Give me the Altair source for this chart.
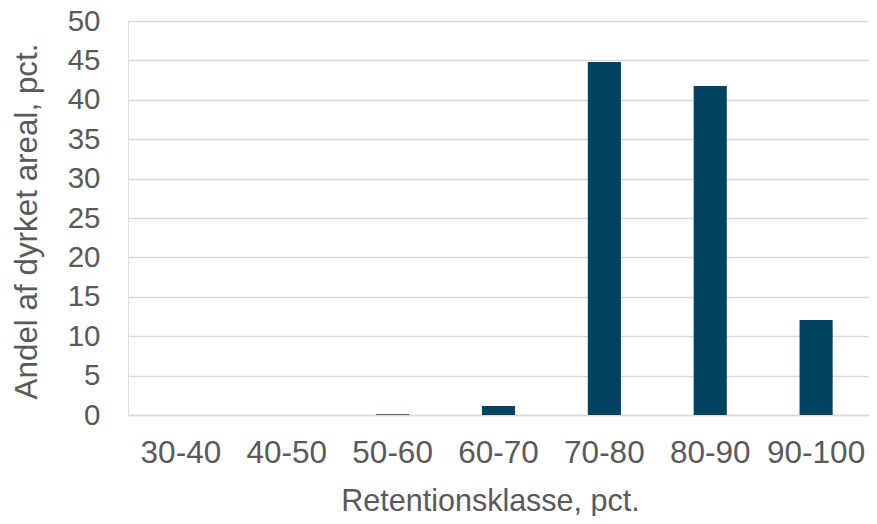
import altair as alt
import pandas as pd

categories = ["30-40", "40-50", "50-60", "60-70", "70-80", "80-90", "90-100"]
values = [0.0, 0.0, 0.1, 1.15, 44.8, 41.75, 12.05]

df = pd.DataFrame({"klasse": categories, "andel": values})

FONT = "Liberation Sans"
TXT = "#595959"

chart = (
    alt.Chart(df)
    .mark_bar(color="#00435F")
    .encode(
        x=alt.X(
            "klasse:N",
            sort=categories,
            scale=alt.Scale(paddingInner=0.687, paddingOuter=0.343),
            axis=alt.Axis(
                title="Retentionsklasse, pct.",
                labelAngle=0,
                ticks=False,
                labelPadding=22,
                labelFontSize=31.5,
                labelFont=FONT,
                labelColor=TXT,
                titleFontSize=30.5,
                titleFont=FONT,
                titleColor=TXT,
                titleFontWeight="normal",
                titlePadding=18,
                titleX=362,
                domainColor="#d9d9d9",
                domainWidth=1.5,
                grid=False,
            ),
        ),
        y=alt.Y(
            "andel:Q",
            scale=alt.Scale(domain=[0, 50], nice=False),
            axis=alt.Axis(
                title="Andel af dyrket areal, pct.",
                values=list(range(0, 55, 5)),
                ticks=False,
                domain=False,
                labelPadding=28,
                labelFontSize=29.5,
                labelFont=FONT,
                labelColor=TXT,
                titleFontSize=31.4,
                titleFont=FONT,
                titleColor=TXT,
                titleFontWeight="normal",
                titleX=-85,
                titleY=200,
                gridColor="#d9d9d9",
                gridWidth=1.3,
            ),
        ),
    )
    .properties(
        width=741,
        height=394,
        padding={"left": 120, "top": 13, "right": 0, "bottom": 101},
        autosize=alt.AutoSizeParams(type="none"),
    )
    .configure_view(stroke=None)
    .configure(background="white")
)

chart.save("out.html", embed_options={"renderer": "svg", "actions": False})
